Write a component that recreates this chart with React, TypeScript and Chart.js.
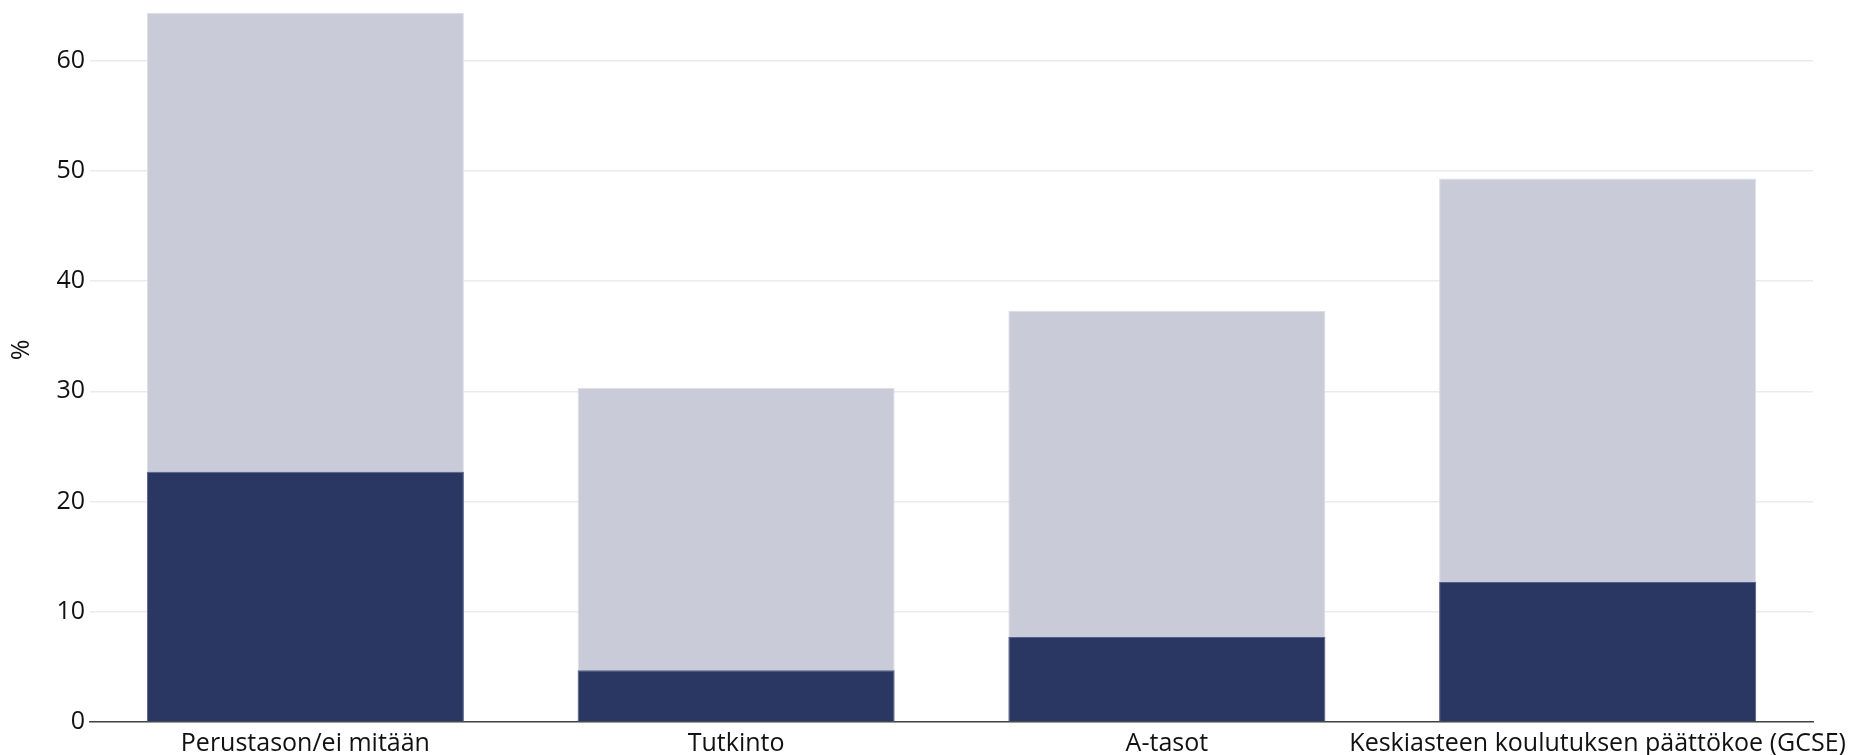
import React, { useEffect, useRef } from "react";
import { Chart, registerables } from "chart.js";

Chart.register(...registerables);

const categories = [
  "Perustason/ei mitään",
  "Tutkinto",
  "A-tasot",
  "Keskiasteen koulutuksen päättökoe (GCSE)",
];
const subgroupValues = [22.7, 4.7, 7.7, 12.7];
const totalValues = [64.3, 30.3, 37.3, 49.3];
const yTicks = [0, 10, 20, 30, 40, 50, 60];
const yTitle = "%";

const FONT = "'Open Sans', 'Noto Sans', sans-serif";

const yTitlePlugin = {
  id: "yTitleText",
  afterDraw(chart: any) {
    const ctx = chart.ctx;
    const area = chart.chartArea;
    ctx.save();
    ctx.translate(22, area.top + (area.bottom - area.top) * 0.476);
    ctx.rotate(-Math.PI / 2);
    ctx.font = `25px ${FONT}`;
    ctx.fillStyle = "#111111";
    ctx.textAlign = "center";
    ctx.textBaseline = "middle";
    ctx.fillText(yTitle, 0, 0);
    ctx.restore();
  },
};

export default function App() {
  const ref = useRef<HTMLCanvasElement | null>(null);
  useEffect(() => {
    if (!ref.current) return;
    const chart = new Chart(ref.current, {
      type: "bar",
      data: {
        labels: categories,
        datasets: [
          {
            data: subgroupValues,
            backgroundColor: "#2b3763",
            borderColor: "#56618a",
            borderWidth: 1,
            grouped: false,
            categoryPercentage: 1,
            barPercentage: 0.736,
          } as any,
          {
            data: totalValues,
            backgroundColor: "#c9ccd8",
            borderColor: "#dcdee6",
            borderWidth: 1,
            grouped: false,
            categoryPercentage: 1,
            barPercentage: 0.736,
          } as any,
        ],
      },
      options: {
        animation: false,
        responsive: false,
        maintainAspectRatio: false,
        layout: { padding: { top: 12, right: 47, left: 0, bottom: 0 } },
        plugins: { legend: { display: false }, tooltip: { enabled: false } },
        scales: {
          x: {
            grid: { display: false, drawTicks: false },
            border: { display: true, color: "#444444", width: 1.5 },
            ticks: {
              color: "#111111",
              font: { family: FONT, size: 25 },
              padding: 7,
              maxRotation: 0,
              autoSkip: false,
            },
            afterFit: (s: any) => {
              s.height = 33;
              s.paddingLeft = 0;
              s.paddingRight = 0;
            },
          },
          y: {
            min: 0,
            max: Math.max(...totalValues) + 0.1,
            afterBuildTicks: (s: any) => {
              s.ticks = yTicks.map((v) => ({ value: v }));
            },
            grid: { color: "#ebebeb", lineWidth: 1.5, drawTicks: false },
            border: { display: false },
            ticks: {
              color: "#111111",
              font: { family: FONT, size: 25 },
              padding: 5,
            },
            afterFit: (s: any) => {
              s.width = 90;
              s.paddingTop = 0;
              s.paddingBottom = 0;
            },
          },
        },
      },
      plugins: [yTitlePlugin],
    });
    return () => chart.destroy();
  }, []);
  return (
    <div style={{ position: "fixed", left: 0, top: 0, width: 1860, height: 755, background: "#fff" }}>
      <canvas ref={ref} width={1860} height={755} style={{ width: 1860, height: 755, display: "block" }} />
    </div>
  );
}
